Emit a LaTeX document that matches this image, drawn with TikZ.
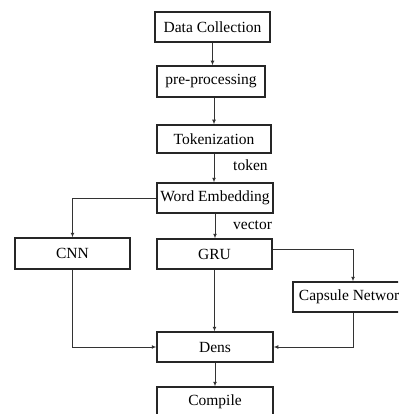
\documentclass[tikz,border=0pt]{standalone}
\usepackage{fontspec}
\setmainfont{Liberation Serif}
\usetikzlibrary{arrows.meta}
\begin{document}
\begin{tikzpicture}[x=1pt,y=-1pt,
  box/.style={draw=black!85, line width=1.5pt, inner sep=0pt, font=\fontsize{15.5}{16}\selectfont},
  conn/.style={draw=black!80, line width=1pt, -{Latex[length=4.5pt,width=4pt]}},
  lbl/.style={anchor=west, inner sep=0pt, font=\fontsize{15.5}{16}\selectfont}]
\useasboundingbox (0,0) rectangle (398,414);
\clip (0,0) rectangle (398,414);
\node[box, minimum width=115pt, minimum height=30pt] (dc) at (212.5,27) {Data Collection};
\node[box, minimum width=108pt, minimum height=31pt] (pp) at (211,81.5) {pre-processing};
\node[box, minimum width=114pt, minimum height=28pt] (tk) at (214,139) {Tokenization};
\node[box, minimum width=116pt, minimum height=30pt] (we) at (215,198) {Word Embedding};
\node[box, minimum width=115pt, minimum height=31pt] (cnn) at (72.5,253.5) {CNN};
\node[box, minimum width=115pt, minimum height=30pt] (gru) at (214.5,254) {GRU};
\node[box, minimum width=120pt, minimum height=30pt] (cap) at (353,297) {Capsule Network};
\node[box, minimum width=116pt, minimum height=30pt] (dens) at (215,347) {Dens};
\node[box, minimum width=116pt, minimum height=30pt] (comp) at (215,402) {Compile};
\node[lbl] (ltok) at (233,165) {token};
\node[lbl] (lvec) at (233,225) {vector};
\draw[conn] (dc.south) -- (dc.south |- pp.north);
\draw[conn] (pp.south -| tk.south) -- (tk.north);
\draw[conn] (tk.south) -- (tk.south |- we.north);
\draw[conn] (we.west) -| (cnn.north);
\draw[conn] (we.south) -- (we.south |- gru.north);
\draw[conn] ([yshift=5pt]gru.east) -| (cap.north);
\draw[conn] (gru.south) -- (gru.south |- dens.north);
\draw[conn] (cnn.south) |- (dens.west);
\draw[conn] (cap.south) |- (dens.east);
\draw[conn] (dens.south) -- (comp.north);
\end{tikzpicture}
\end{document}
